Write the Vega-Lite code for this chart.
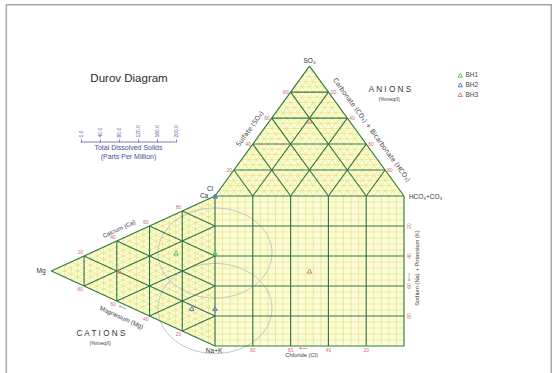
{
"$schema": "https://vega.github.io/schema/vega-lite/v6.json",
"width": 556, "height": 373, "padding": 0,
"autosize": {"type": "fit", "contains": "padding"},
"background": "white",
"config": {"view": {"stroke": null}, "font": "Liberation Sans"},
"datasets": {
 "fineSq": [{"p":4},{"p":8},{"p":12},{"p":16},{"p":24},{"p":28},{"p":32},{"p":36},{"p":44},{"p":48},{"p":52},{"p":56},{"p":64},{"p":68},{"p":72},{"p":76},{"p":84},{"p":88},{"p":92},{"p":96}],
 "fineSeg": [
  {"x1":2,"y1":103.46,"x2":98,"y2":103.46},{"x1":4,"y1":106.93,"x2":96,"y2":106.93},{"x1":6,"y1":110.39,"x2":94,"y2":110.39},{"x1":8,"y1":113.86,"x2":92,"y2":113.86},
  {"x1":12,"y1":120.78,"x2":88,"y2":120.78},{"x1":14,"y1":124.25,"x2":86,"y2":124.25},{"x1":16,"y1":127.71,"x2":84,"y2":127.71},{"x1":18,"y1":131.18,"x2":82,"y2":131.18},
  {"x1":22,"y1":138.1,"x2":78,"y2":138.1},{"x1":24,"y1":141.57,"x2":76,"y2":141.57},{"x1":26,"y1":145.03,"x2":74,"y2":145.03},{"x1":28,"y1":148.5,"x2":72,"y2":148.5},
  {"x1":32,"y1":155.43,"x2":68,"y2":155.43},{"x1":34,"y1":158.89,"x2":66,"y2":158.89},{"x1":36,"y1":162.35,"x2":64,"y2":162.35},{"x1":38,"y1":165.82,"x2":62,"y2":165.82},
  {"x1":42,"y1":172.75,"x2":58,"y2":172.75},{"x1":44,"y1":176.21,"x2":56,"y2":176.21},{"x1":46,"y1":179.67,"x2":54,"y2":179.67},{"x1":48,"y1":183.14,"x2":52,"y2":183.14},
  {"x1":4,"y1":100,"x2":2,"y2":103.46},{"x1":8,"y1":100,"x2":4,"y2":106.93},{"x1":12,"y1":100,"x2":6,"y2":110.39},{"x1":16,"y1":100,"x2":8,"y2":113.86},
  {"x1":24,"y1":100,"x2":12,"y2":120.78},{"x1":28,"y1":100,"x2":14,"y2":124.25},{"x1":32,"y1":100,"x2":16,"y2":127.71},{"x1":36,"y1":100,"x2":18,"y2":131.18},
  {"x1":44,"y1":100,"x2":22,"y2":138.1},{"x1":48,"y1":100,"x2":24,"y2":141.57},{"x1":52,"y1":100,"x2":26,"y2":145.03},{"x1":56,"y1":100,"x2":28,"y2":148.5},
  {"x1":64,"y1":100,"x2":32,"y2":155.43},{"x1":68,"y1":100,"x2":34,"y2":158.89},{"x1":72,"y1":100,"x2":36,"y2":162.35},{"x1":76,"y1":100,"x2":38,"y2":165.82},
  {"x1":84,"y1":100,"x2":42,"y2":172.75},{"x1":88,"y1":100,"x2":44,"y2":176.21},{"x1":92,"y1":100,"x2":46,"y2":179.67},{"x1":96,"y1":100,"x2":48,"y2":183.14},
  {"x1":4,"y1":100,"x2":52,"y2":183.14},{"x1":8,"y1":100,"x2":54,"y2":179.67},{"x1":12,"y1":100,"x2":56,"y2":176.21},{"x1":16,"y1":100,"x2":58,"y2":172.75},
  {"x1":24,"y1":100,"x2":62,"y2":165.82},{"x1":28,"y1":100,"x2":64,"y2":162.35},{"x1":32,"y1":100,"x2":66,"y2":158.89},{"x1":36,"y1":100,"x2":68,"y2":155.43},
  {"x1":44,"y1":100,"x2":72,"y2":148.5},{"x1":48,"y1":100,"x2":74,"y2":145.03},{"x1":52,"y1":100,"x2":76,"y2":141.57},{"x1":56,"y1":100,"x2":78,"y2":138.1},
  {"x1":64,"y1":100,"x2":82,"y2":131.18},{"x1":68,"y1":100,"x2":84,"y2":127.71},{"x1":72,"y1":100,"x2":86,"y2":124.25},{"x1":76,"y1":100,"x2":88,"y2":120.78},
  {"x1":84,"y1":100,"x2":92,"y2":113.86},{"x1":88,"y1":100,"x2":94,"y2":110.39},{"x1":92,"y1":100,"x2":96,"y2":106.93},{"x1":96,"y1":100,"x2":98,"y2":103.46},
  {"x1":-3.46,"y1":2,"x2":-3.46,"y2":98},{"x1":-6.93,"y1":4,"x2":-6.93,"y2":96},{"x1":-10.39,"y1":6,"x2":-10.39,"y2":94},{"x1":-13.86,"y1":8,"x2":-13.86,"y2":92},
  {"x1":-20.78,"y1":12,"x2":-20.78,"y2":88},{"x1":-24.25,"y1":14,"x2":-24.25,"y2":86},{"x1":-27.71,"y1":16,"x2":-27.71,"y2":84},{"x1":-31.18,"y1":18,"x2":-31.18,"y2":82},
  {"x1":-38.1,"y1":22,"x2":-38.1,"y2":78},{"x1":-41.57,"y1":24,"x2":-41.57,"y2":76},{"x1":-45.03,"y1":26,"x2":-45.03,"y2":74},{"x1":-48.5,"y1":28,"x2":-48.5,"y2":72},
  {"x1":-55.43,"y1":32,"x2":-55.43,"y2":68},{"x1":-58.89,"y1":34,"x2":-58.89,"y2":66},{"x1":-62.35,"y1":36,"x2":-62.35,"y2":64},{"x1":-65.82,"y1":38,"x2":-65.82,"y2":62},
  {"x1":-72.75,"y1":42,"x2":-72.75,"y2":58},{"x1":-76.21,"y1":44,"x2":-76.21,"y2":56},{"x1":-79.67,"y1":46,"x2":-79.67,"y2":54},{"x1":-83.14,"y1":48,"x2":-83.14,"y2":52},
  {"x1":0,"y1":4,"x2":-3.46,"y2":2},{"x1":0,"y1":8,"x2":-6.93,"y2":4},{"x1":0,"y1":12,"x2":-10.39,"y2":6},{"x1":0,"y1":16,"x2":-13.86,"y2":8},
  {"x1":0,"y1":24,"x2":-20.78,"y2":12},{"x1":0,"y1":28,"x2":-24.25,"y2":14},{"x1":0,"y1":32,"x2":-27.71,"y2":16},{"x1":0,"y1":36,"x2":-31.18,"y2":18},
  {"x1":0,"y1":44,"x2":-38.1,"y2":22},{"x1":0,"y1":48,"x2":-41.57,"y2":24},{"x1":0,"y1":52,"x2":-45.03,"y2":26},{"x1":0,"y1":56,"x2":-48.5,"y2":28},
  {"x1":0,"y1":64,"x2":-55.43,"y2":32},{"x1":0,"y1":68,"x2":-58.89,"y2":34},{"x1":0,"y1":72,"x2":-62.35,"y2":36},{"x1":0,"y1":76,"x2":-65.82,"y2":38},
  {"x1":0,"y1":84,"x2":-72.75,"y2":42},{"x1":0,"y1":88,"x2":-76.21,"y2":44},{"x1":0,"y1":92,"x2":-79.67,"y2":46},{"x1":0,"y1":96,"x2":-83.14,"y2":48},
  {"x1":0,"y1":4,"x2":-83.14,"y2":52},{"x1":0,"y1":8,"x2":-79.67,"y2":54},{"x1":0,"y1":12,"x2":-76.21,"y2":56},{"x1":0,"y1":16,"x2":-72.75,"y2":58},
  {"x1":0,"y1":24,"x2":-65.82,"y2":62},{"x1":0,"y1":28,"x2":-62.35,"y2":64},{"x1":0,"y1":32,"x2":-58.89,"y2":66},{"x1":0,"y1":36,"x2":-55.43,"y2":68},
  {"x1":0,"y1":44,"x2":-48.5,"y2":72},{"x1":0,"y1":48,"x2":-45.03,"y2":74},{"x1":0,"y1":52,"x2":-41.57,"y2":76},{"x1":0,"y1":56,"x2":-38.1,"y2":78},
  {"x1":0,"y1":64,"x2":-31.18,"y2":82},{"x1":0,"y1":68,"x2":-27.71,"y2":84},{"x1":0,"y1":72,"x2":-24.25,"y2":86},{"x1":0,"y1":76,"x2":-20.78,"y2":88},
  {"x1":0,"y1":84,"x2":-13.86,"y2":92},{"x1":0,"y1":88,"x2":-10.39,"y2":94},{"x1":0,"y1":92,"x2":-6.93,"y2":96},{"x1":0,"y1":96,"x2":-3.46,"y2":98}
 ],
 "majSeg": [
  {"x1":20,"y1":0,"x2":20,"y2":100},{"x1":40,"y1":0,"x2":40,"y2":100},{"x1":60,"y1":0,"x2":60,"y2":100},{"x1":80,"y1":0,"x2":80,"y2":100},
  {"x1":0,"y1":20,"x2":100,"y2":20},{"x1":0,"y1":40,"x2":100,"y2":40},{"x1":0,"y1":60,"x2":100,"y2":60},{"x1":0,"y1":80,"x2":100,"y2":80},
  {"x1":10,"y1":117.32,"x2":90,"y2":117.32},{"x1":20,"y1":134.64,"x2":80,"y2":134.64},{"x1":30,"y1":151.96,"x2":70,"y2":151.96},{"x1":40,"y1":169.28,"x2":60,"y2":169.28},
  {"x1":20,"y1":100,"x2":10,"y2":117.32},{"x1":40,"y1":100,"x2":20,"y2":134.64},{"x1":60,"y1":100,"x2":30,"y2":151.96},{"x1":80,"y1":100,"x2":40,"y2":169.28},
  {"x1":20,"y1":100,"x2":60,"y2":169.28},{"x1":40,"y1":100,"x2":70,"y2":151.96},{"x1":60,"y1":100,"x2":80,"y2":134.64},{"x1":80,"y1":100,"x2":90,"y2":117.32},
  {"x1":-17.32,"y1":10,"x2":-17.32,"y2":90},{"x1":-34.64,"y1":20,"x2":-34.64,"y2":80},{"x1":-51.96,"y1":30,"x2":-51.96,"y2":70},{"x1":-69.28,"y1":40,"x2":-69.28,"y2":60},
  {"x1":0,"y1":20,"x2":-17.32,"y2":10},{"x1":0,"y1":40,"x2":-34.64,"y2":20},{"x1":0,"y1":60,"x2":-51.96,"y2":30},{"x1":0,"y1":80,"x2":-69.28,"y2":40},
  {"x1":0,"y1":20,"x2":-69.28,"y2":60},{"x1":0,"y1":40,"x2":-51.96,"y2":70},{"x1":0,"y1":60,"x2":-34.64,"y2":80},{"x1":0,"y1":80,"x2":-17.32,"y2":90},
  {"x1":0,"y1":0,"x2":100,"y2":0},{"x1":100,"y1":0,"x2":100,"y2":100},{"x1":0,"y1":100,"x2":100,"y2":100},{"x1":0,"y1":0,"x2":0,"y2":100},
  {"x1":0,"y1":100,"x2":50,"y2":186.6},{"x1":50,"y1":186.6,"x2":100,"y2":100},{"x1":0,"y1":100,"x2":-86.6,"y2":50},{"x1":-86.6,"y1":50,"x2":0,"y2":0}
 ],
 "samples": [
  {"well":"BH1","x":-20.6,"y":62},{"well":"BH1","x":0,"y":62},{"well":"BH1","x":0,"y":100},
  {"well":"BH2","x":-12.3,"y":25},{"well":"BH2","x":0,"y":25},{"well":"BH2","x":0,"y":100},
  {"well":"BH3","x":-50.8,"y":50},{"well":"BH3","x":50,"y":50},{"well":"BH3","x":50,"y":150}
 ],
 "tds": [{"well":"BH1","x":0,"y":62},{"well":"BH2","x":0,"y":25}]
},
"layer": [
 {"layer": [
  {"data":{"values":[{}]},
   "mark":{"type":"rect","filled":false,"stroke":"#a8a8a8","strokeWidth":1.5,"clip":true},
   "encoding":{"x":{"datum":-110.4,"type":"quantitative","scale":{"domain":[-113.76,180.42],"nice":false,"zero":false},"axis":null},"x2":{"datum":177.9},
     "y":{"datum":227.5,"type":"quantitative","scale":{"domain":[-18,230.67],"nice":false,"zero":false},"axis":null},"y2":{"datum":-25}}},
  {"data":{"values":[{}]},
   "mark":{"type":"rect","fill":"#fcfcda"},
   "encoding":{"x":{"datum":0,"type":"quantitative","scale":{"domain":[-113.76,180.42],"nice":false,"zero":false},"axis":null},"x2":{"datum":100},
     "y":{"datum":0,"type":"quantitative","scale":{"domain":[-18,230.67],"nice":false,"zero":false},"axis":null},"y2":{"datum":100}}},
  {"data":{"values":[{"x":0,"y":100},{"x":50,"y":186.6},{"x":100,"y":100}]},
   "mark":{"type":"area","orient":"vertical","fill":"#fcfcda"},
   "encoding":{"x":{"field":"x","type":"quantitative","scale":{"domain":[-113.76,180.42],"nice":false,"zero":false},"axis":null},
     "y":{"field":"y","type":"quantitative","scale":{"domain":[-18,230.67],"nice":false,"zero":false},"axis":null},"y2":{"datum":100}}},
  {"data":{"values":[{"x":0,"y":0},{"x":-86.6,"y":50},{"x":0,"y":100}]},
   "mark":{"type":"area","orient":"horizontal","fill":"#fcfcda"},
   "encoding":{"x":{"field":"x","type":"quantitative","scale":{"domain":[-113.76,180.42],"nice":false,"zero":false},"axis":null},"x2":{"datum":0},
     "y":{"field":"y","type":"quantitative","scale":{"domain":[-18,230.67],"nice":false,"zero":false},"axis":null}}},
  {"data":{"name":"fineSq"},
   "mark":{"type":"rule","color":"#e4e47a","strokeWidth":0.7},
   "encoding":{"x":{"field":"p","type":"quantitative","scale":{"domain":[-113.76,180.42],"nice":false,"zero":false},"axis":null},
     "y":{"datum":0,"type":"quantitative","scale":{"domain":[-18,230.67],"nice":false,"zero":false},"axis":null},"y2":{"datum":100}}},
  {"data":{"name":"fineSq"},
   "mark":{"type":"rule","color":"#e4e47a","strokeWidth":0.7},
   "encoding":{"y":{"field":"p","type":"quantitative","scale":{"domain":[-18,230.67],"nice":false,"zero":false},"axis":null},
     "x":{"datum":0,"type":"quantitative","scale":{"domain":[-113.76,180.42],"nice":false,"zero":false},"axis":null},"x2":{"datum":100}}},
  {"data":{"name":"fineSeg"},
   "mark":{"type":"rule","color":"#e4e47a","strokeWidth":0.7},
   "encoding":{"x":{"field":"x1","type":"quantitative","scale":{"domain":[-113.76,180.42],"nice":false,"zero":false},"axis":null},"x2":{"field":"x2"},
     "y":{"field":"y1","type":"quantitative","scale":{"domain":[-18,230.67],"nice":false,"zero":false},"axis":null},"y2":{"field":"y2"}}},
  {"data":{"name":"tds"},
   "mark":{"type":"point","shape":"M-1,0A1,0.79,0,1,1,1,0A1,0.79,0,1,1,-1,0Z","filled":false,"size":12996,"color":"#c4c6c4","strokeWidth":1,"opacity":1},
   "encoding":{"x":{"field":"x","type":"quantitative","scale":{"domain":[-113.76,180.42],"nice":false,"zero":false},"axis":null},
     "y":{"field":"y","type":"quantitative","scale":{"domain":[-18,230.67],"nice":false,"zero":false},"axis":null}}},
  {"data":{"name":"majSeg"},
   "mark":{"type":"rule","color":"#337833","strokeWidth":1.15},
   "encoding":{"x":{"field":"x1","type":"quantitative","scale":{"domain":[-113.76,180.42],"nice":false,"zero":false},"axis":null},"x2":{"field":"x2"},
     "y":{"field":"y1","type":"quantitative","scale":{"domain":[-18,230.67],"nice":false,"zero":false},"axis":null},"y2":{"field":"y2"}}},
  {"data":{"name":"samples"},
   "mark":{"type":"point","shape":"triangle-up","filled":false,"size":22,"strokeWidth":1,"opacity":1},
   "encoding":{"x":{"field":"x","type":"quantitative","scale":{"domain":[-113.76,180.42],"nice":false,"zero":false},"axis":null},
     "y":{"field":"y","type":"quantitative","scale":{"domain":[-18,230.67],"nice":false,"zero":false},"axis":null},
     "color":{"field":"well","type":"nominal","scale":{"domain":["BH1","BH2","BH3"],"range":["#5cbf5c","#6470d0","#e07878"]},
       "legend":{"title":null,"orient":"none","legendX":457,"legendY":72,"labelFontSize":6.5,"symbolSize":18,"rowPadding":0.7,"padding":0,"labelColor":"#444","symbolStrokeWidth":1,"labelOffset":2,"symbolType":"triangle-up"}}}},
  {"data":{"values":[{"t":"Durov Diagram","x":-45.5,"y":178}]},
   "mark":{"type":"text","fontSize":11.5,"color":"#2b2b2b","align":"center","baseline":"middle"},
   "encoding":{"x":{"field":"x","type":"quantitative","scale":{"domain":[-113.76,180.42],"nice":false,"zero":false},"axis":null},
     "y":{"field":"y","type":"quantitative","scale":{"domain":[-18,230.67],"nice":false,"zero":false},"axis":null},"text":{"field":"t"}}},
  {"data":{"values":[{"t":"Total Dissolved Solids","x":-45.8,"y":131.7},{"t":"(Parts Per Million)","x":-45.8,"y":125.8}]},
   "mark":{"type":"text","fontSize":7,"color":"#4b4ba0","align":"center","baseline":"middle"},
   "encoding":{"x":{"field":"x","type":"quantitative","scale":{"domain":[-113.76,180.42],"nice":false,"zero":false},"axis":null},
     "y":{"field":"y","type":"quantitative","scale":{"domain":[-18,230.67],"nice":false,"zero":false},"axis":null},"text":{"field":"t"}}},
  {"data":{"values":[{"t":"A N I O N S","x":92.6,"y":171},{"t":"C A T I O N S","x":-60.3,"y":8}]},
   "mark":{"type":"text","fontSize":8.2,"color":"#333333","align":"center","baseline":"middle"},
   "encoding":{"x":{"field":"x","type":"quantitative","scale":{"domain":[-113.76,180.42],"nice":false,"zero":false},"axis":null},
     "y":{"field":"y","type":"quantitative","scale":{"domain":[-18,230.67],"nice":false,"zero":false},"axis":null},"text":{"field":"t"}}},
  {"data":{"values":[{"t":"(%meq/l)","x":92.1,"y":164.6},{"t":"(%meq/l)","x":-60.8,"y":1.8}]},
   "mark":{"type":"text","fontSize":5.3,"color":"#444444","align":"center","baseline":"middle"},
   "encoding":{"x":{"field":"x","type":"quantitative","scale":{"domain":[-113.76,180.42],"nice":false,"zero":false},"axis":null},
     "y":{"field":"y","type":"quantitative","scale":{"domain":[-18,230.67],"nice":false,"zero":false},"axis":null},"text":{"field":"t"}}},
  {"data":{"values":[{"t":"SO₄","x":50,"y":190},{"t":"Cl","x":-2.6,"y":104.7},{"t":"Ca","x":-5.8,"y":99.7},{"t":"Mg","x":-92,"y":50},{"t":"Na+K","x":-0.5,"y":-3.3},{"t":"HCO₃+CO₃","x":111.4,"y":99.3}]},
   "mark":{"type":"text","fontSize":6.5,"color":"#333333","align":"center","baseline":"middle"},
   "encoding":{"x":{"field":"x","type":"quantitative","scale":{"domain":[-113.76,180.42],"nice":false,"zero":false},"axis":null},
     "y":{"field":"y","type":"quantitative","scale":{"domain":[-18,230.67],"nice":false,"zero":false},"axis":null},"text":{"field":"t"}}},
  {"data":{"values":[{"t":"Chloride (Cl)","x":45.8,"y":-6}]},
   "mark":{"type":"text","fontSize":5.8,"color":"#444444","align":"center","baseline":"middle"},
   "encoding":{"x":{"field":"x","type":"quantitative","scale":{"domain":[-113.76,180.42],"nice":false,"zero":false},"axis":null},
     "y":{"field":"y","type":"quantitative","scale":{"domain":[-18,230.67],"nice":false,"zero":false},"axis":null},"text":{"field":"t"}}},
  {"data":{"values":[{"t":"Sodium (Na) + Potassium (K)","x":106.9,"y":52}]},
   "mark":{"type":"text","fontSize":5.8,"color":"#444444","align":"center","baseline":"middle","angle":270},
   "encoding":{"x":{"field":"x","type":"quantitative","scale":{"domain":[-113.76,180.42],"nice":false,"zero":false},"axis":null},
     "y":{"field":"y","type":"quantitative","scale":{"domain":[-18,230.67],"nice":false,"zero":false},"axis":null},"text":{"field":"t"}}},
  {"data":{"values":[{"t":"Sulfate (SO₄)","x":18.5,"y":144.7}]},
   "mark":{"type":"text","fontSize":6.5,"font":"DejaVu Sans","color":"#444444","align":"center","baseline":"middle","angle":306},
   "encoding":{"x":{"field":"x","type":"quantitative","scale":{"domain":[-113.76,180.42],"nice":false,"zero":false},"axis":null},
     "y":{"field":"y","type":"quantitative","scale":{"domain":[-18,230.67],"nice":false,"zero":false},"axis":null},"text":{"field":"t"}}},
  {"data":{"values":[{"t":"Carbonate (CO₃) + Bicarbonate (HCO₃)","x":82.8,"y":144}]},
   "mark":{"type":"text","fontSize":6.5,"font":"DejaVu Sans","color":"#444444","align":"center","baseline":"middle","angle":54},
   "encoding":{"x":{"field":"x","type":"quantitative","scale":{"domain":[-113.76,180.42],"nice":false,"zero":false},"axis":null},
     "y":{"field":"y","type":"quantitative","scale":{"domain":[-18,230.67],"nice":false,"zero":false},"axis":null},"text":{"field":"t"}}},
  {"data":{"values":[{"t":"Calcium (Ca)","x":-50.8,"y":78}]},
   "mark":{"type":"text","fontSize":6,"color":"#444444","align":"center","baseline":"middle","angle":335.4},
   "encoding":{"x":{"field":"x","type":"quantitative","scale":{"domain":[-113.76,180.42],"nice":false,"zero":false},"axis":null},
     "y":{"field":"y","type":"quantitative","scale":{"domain":[-18,230.67],"nice":false,"zero":false},"axis":null},"text":{"field":"t"}}},
  {"data":{"values":[{"t":"Magnesium (Mg)","x":-49.5,"y":19}]},
   "mark":{"type":"text","fontSize":6.3,"color":"#444444","align":"center","baseline":"middle","angle":24.6},
   "encoding":{"x":{"field":"x","type":"quantitative","scale":{"domain":[-113.76,180.42],"nice":false,"zero":false},"axis":null},
     "y":{"field":"y","type":"quantitative","scale":{"domain":[-18,230.67],"nice":false,"zero":false},"axis":null},"text":{"field":"t"}}},
  {"data":{"values":[{"t":"⟵","x":46.8,"y":-1.6}]},
   "mark":{"type":"text","fontSize":6,"font":"DejaVu Sans","color":"#b07070","align":"center","baseline":"middle"},
   "encoding":{"x":{"field":"x","type":"quantitative","scale":{"domain":[-113.76,180.42],"nice":false,"zero":false},"axis":null},
     "y":{"field":"y","type":"quantitative","scale":{"domain":[-18,230.67],"nice":false,"zero":false},"axis":null},"text":{"field":"t"}}},
  {"data":{"values":[{"t":"⟵","x":102.9,"y":46}]},
   "mark":{"type":"text","fontSize":6,"font":"DejaVu Sans","color":"#b07070","align":"center","baseline":"middle","angle":270},
   "encoding":{"x":{"field":"x","type":"quantitative","scale":{"domain":[-113.76,180.42],"nice":false,"zero":false},"axis":null},
     "y":{"field":"y","type":"quantitative","scale":{"domain":[-18,230.67],"nice":false,"zero":false},"axis":null},"text":{"field":"t"}}},
  {"data":{"values":[{"t":"⟵","x":-48.7,"y":25.7}]},
   "mark":{"type":"text","fontSize":6,"font":"DejaVu Sans","color":"#b07070","align":"center","baseline":"middle","angle":24.6},
   "encoding":{"x":{"field":"x","type":"quantitative","scale":{"domain":[-113.76,180.42],"nice":false,"zero":false},"axis":null},
     "y":{"field":"y","type":"quantitative","scale":{"domain":[-18,230.67],"nice":false,"zero":false},"axis":null},"text":{"field":"t"}}},
  {"data":{"values":[
     {"t":"20","x":7.5,"y":117.3},{"t":"40","x":17.5,"y":134.6},{"t":"60","x":27.5,"y":152},{"t":"80","x":37.5,"y":169.3},
     {"t":"20","x":62.5,"y":169.3},{"t":"40","x":72.5,"y":152},{"t":"60","x":82.5,"y":134.6},{"t":"80","x":92.5,"y":117.3},
     {"t":"80","x":-19.3,"y":92.5},{"t":"60","x":-36.6,"y":82.5},{"t":"40","x":-54,"y":72.5},{"t":"20","x":-71.3,"y":62.5},
     {"t":"20","x":-19.3,"y":7.7},{"t":"40","x":-36.6,"y":17.7},{"t":"60","x":-54,"y":27.7},{"t":"80","x":-71.3,"y":37.7},
     {"t":"80","x":20,"y":-2.7},{"t":"60","x":40,"y":-2.7},{"t":"40","x":60,"y":-2.7},{"t":"20","x":80,"y":-2.7}]},
   "mark":{"type":"text","fontSize":5,"color":"#d46a6a","align":"center","baseline":"middle"},
   "encoding":{"x":{"field":"x","type":"quantitative","scale":{"domain":[-113.76,180.42],"nice":false,"zero":false},"axis":null},
     "y":{"field":"y","type":"quantitative","scale":{"domain":[-18,230.67],"nice":false,"zero":false},"axis":null},"text":{"field":"t"}}},
  {"data":{"values":[{"t":"20","x":102.6,"y":80},{"t":"40","x":102.6,"y":60},{"t":"60","x":102.6,"y":40},{"t":"80","x":102.6,"y":20}]},
   "mark":{"type":"text","fontSize":5,"color":"#d46a6a","align":"center","baseline":"middle","angle":270},
   "encoding":{"x":{"field":"x","type":"quantitative","scale":{"domain":[-113.76,180.42],"nice":false,"zero":false},"axis":null},
     "y":{"field":"y","type":"quantitative","scale":{"domain":[-18,230.67],"nice":false,"zero":false},"axis":null},"text":{"field":"t"}}}
 ]},
 {"data":{"values":[{"lo":0,"hi":200}]},
  "mark":{"type":"rule","color":"#6060a8","strokeWidth":0.8},
  "encoding":{
   "x":{"field":"lo","type":"quantitative","scale":{"domain":[0,200],"range":[80.7,175.7],"nice":false,"zero":false},
     "axis":{"orient":"top","offset":-142,"values":[0,40,80,120,160,200],"format":".1f","labelAngle":-90,"labelAlign":"left","labelBaseline":"middle","labelFontSize":5,"labelColor":"#6060a8","tickColor":"#6060a8","tickSize":3,"tickWidth":0.8,"domain":false,"grid":false,"title":null,"labelPadding":2,"labelFlush":false,"labelOverlap":false}},
   "x2":{"field":"hi"},
   "y":{"datum":136,"type":"quantitative","scale":{"domain":[-18,230.67],"nice":false,"zero":false},"axis":null}}}
],
"resolve": {"scale": {"x": "independent"}}
}
